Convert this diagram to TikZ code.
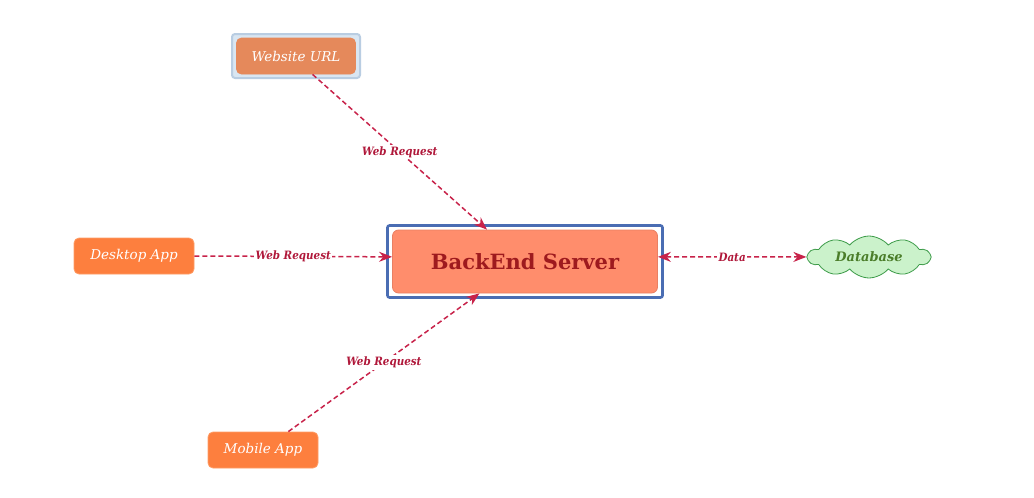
\documentclass[tikz,border=0pt]{standalone}
\usepackage{tikz}
\usepackage{xcolor}
\usepackage{fontspec}
\setmainfont{DejaVu Serif}
\newfontfamily\lblfont{DejaVu Serif Condensed}
\usetikzlibrary{shapes.symbols,arrows.meta}

\definecolor{appfill}{HTML}{FD7F3E}
\definecolor{appline}{HTML}{FF9D66}
\definecolor{webfill}{HTML}{E5895B}
\definecolor{webedge}{HTML}{B9CDE2}
\definecolor{webback}{HTML}{D9E6F2}
\definecolor{srvfill}{HTML}{FF8D6C}
\definecolor{srvline}{HTML}{E98063}
\definecolor{srvtext}{HTML}{9E1A1E}
\definecolor{srvframe}{HTML}{4A6DB3}
\definecolor{dbfill}{HTML}{CBF2CB}
\definecolor{dbline}{HTML}{3E9C4A}
\definecolor{dbtext}{HTML}{4B7D2A}
\definecolor{reqline}{HTML}{C8234A}
\definecolor{reqtext}{HTML}{B0183A}

\begin{document}
\begin{tikzpicture}[x=1pt,y=-1pt,
    appbox/.style={rectangle,rounded corners=5pt,fill=appfill,draw=appline,line width=0.8pt,
        text=white,font=\fontsize{13.5}{16}\selectfont\itshape,minimum width=120pt,minimum height=36pt,inner sep=0pt},
    webframe/.style={rectangle,rounded corners=3pt,fill=webback,draw=webedge,line width=2pt,
        minimum width=128pt,minimum height=44pt},
    webbox/.style={appbox,fill=webfill,draw=webfill,minimum width=119pt,minimum height=36pt},
    serverframe/.style={rectangle,rounded corners=2pt,draw=srvframe,line width=2.6pt,fill=white,
        minimum width=275pt,minimum height=72pt},
    serverbox/.style={rectangle,rounded corners=6pt,fill=srvfill,draw=srvline,line width=0.8pt,
        text=srvtext,font=\fontsize{21}{24}\selectfont\bfseries,minimum width=265pt,minimum height=63pt},
    dbcloud/.style={cloud,cloud puffs=10,cloud puff arc=100,aspect=3.2,fill=dbfill,draw=dbline,line width=0.8pt,
        text=dbtext,font=\fontsize{13}{15}\selectfont\bfseries\itshape,minimum width=122pt,minimum height=38pt,inner sep=0pt},
    req/.style={draw=reqline,line width=1.5pt,dash pattern=on 5pt off 3pt,-{Stealth[length=13pt,width=10pt]}},
    lbl/.style={fill=white,text=reqtext,font=\lblfont\fontsize{11.5}{13}\selectfont\bfseries\itshape,inner sep=1.5pt}]
    \useasboundingbox[fill=white] (0,0) rectangle (1034,498);
    % nodes
    \node (webfr) at (296,56) [webframe] {};
    \node (web) at (webfr) [webbox] {Website URL};
    \node (desktop) at (134,256) [appbox] {Desktop App};
    \node (mobile) at (263,450) [appbox,minimum width=110pt] {Mobile App};
    \node (srvfr) at (525,261.5) [serverframe] {};
    \node (server) at (srvfr) [serverbox] {BackEnd Server};
    \node (db) at (869,257) [dbcloud] {Database};
    % connectors
    \draw[req] (web.-48) -- node[lbl] {Web Request} (server.140);
    \draw[req] (desktop.east) -- node[lbl] {Web Request} (server.178);
    \draw[req] (mobile.36) -- node[lbl] {Web Request} (server.215);
    \draw[req,{Stealth[length=13pt,width=10pt]}-{Stealth[length=13pt,width=10pt]}] (server.2) -- node[lbl] {Data} (db.west);
\end{tikzpicture}
\end{document}
